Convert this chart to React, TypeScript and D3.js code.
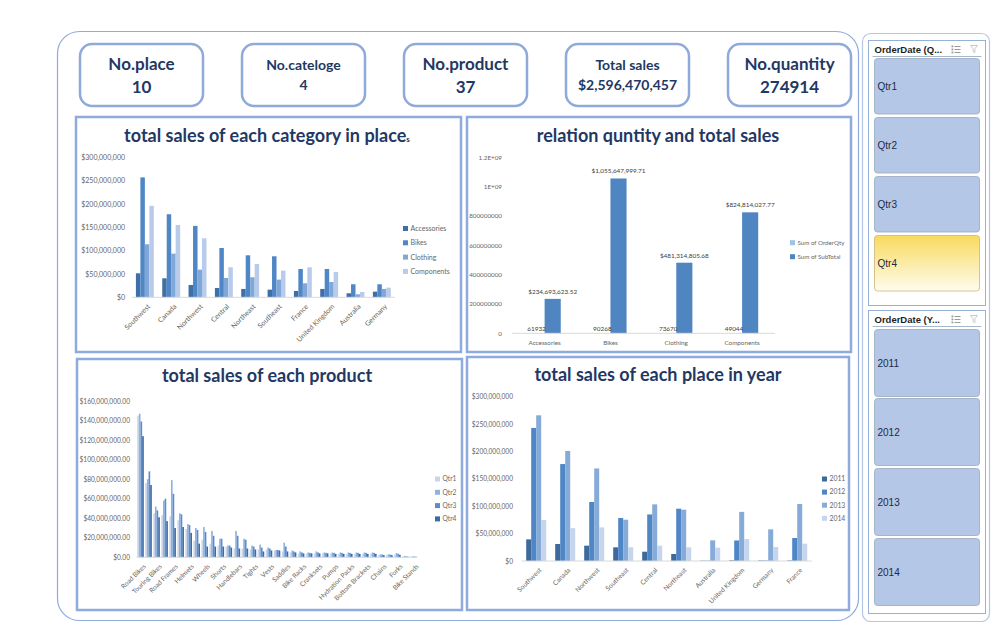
import React, { useEffect, useRef } from "react";
import * as d3 from "d3";

// KPI cards
const kpiLabels = ["No.place", "No.cateloge", "No.product", "Total sales", "No.quantity"];
const kpiValues = ["10", "4", "37", "$2,596,470,457", "274914"];

// chart 1 - total sales of each category in place (millions)
const places1 = ["Southwest", "Canada", "Northwest", "Central", "Northeast", "Southeast", "France", "United Kingdom", "Australia", "Germany"];
const categories = ["Accessories", "Bikes", "Clothing", "Components"];
const accessoriesSales = [51.4, 40.7, 26.4, 20.0, 17.9, 16.4, 13.6, 17.9, 8.6, 12.1];
const bikesSales = [257, 178, 153, 105.7, 90, 87.9, 60.7, 60.7, 27.9, 27.9];
const clothingSales = [113.6, 93.6, 59.3, 41.4, 42.9, 37.9, 30, 32.9, 6.4, 17.9];
const componentsSales = [196, 155, 126.4, 64.3, 71.4, 57.1, 64.3, 54.3, 11.4, 20.7];
const salesTicks1 = [0, 50, 100, 150, 200, 250, 300];

// chart 2 - relation quantity and total sales
const relSeries = ["Sum of OrderQty", "Sum of SubTotal"];
const orderQty = [61932, 90268, 73670, 49044];
const subTotal = [234693623.52, 1055647999.71, 481314805.68, 824814027.77];
const relTicks = [0, 2e8, 4e8, 6e8, 8e8, 1e9, 1.2e9];
const relTickLabels = ["0", "200000000", "400000000", "600000000", "800000000", "1E+09", "1.2E+09"];

// chart 3 - total sales of each product (millions)
const products = [
  "Road Bikes", "Mountain Bikes", "Touring Bikes", "Mountain Frames", "Road Frames", "Touring Frames", "Helmets",
  "Jerseys", "Wheels", "Bib-Shorts", "Shorts", "Gloves", "Handlebars", "Pedals", "Tights", "Headsets", "Vests",
  "Caps", "Saddles", "Derailleurs", "Bike Racks", "Brakes", "Cranksets", "Bottles and Cages", "Pumps",
  "Tires and Tubes", "Hydration Packs", "Socks", "Bottom Brackets", "Fenders", "Chains", "Cleaners", "Forks",
  "Locks", "Bike Stands",
];
const quarters = ["Qtr1", "Qtr2", "Qtr3", "Qtr4"];
const qtr1 = [145, 76, 45, 43, 42, 38, 29, 17, 18, 14, 12, 11, 9, 9, 8, 8, 8, 7, 6, 5, 4, 4, 4, 4, 4, 3.5, 3.5, 3.5, 3.5, 3.5, 2.5, 2.5, 3, 0.8, 0.6];
const qtr2 = [147, 80, 52, 58, 79, 45, 34, 30, 31, 27, 19, 12, 27, 19, 12, 13, 10, 7.5, 15, 7, 6, 5, 6, 5, 5, 5, 5, 5, 5, 5, 3, 3, 4.5, 1.2, 1];
const qtr3 = [139, 88, 48, 60, 65, 44, 33, 28, 26, 22, 19, 12, 22, 18, 11, 10, 9, 7.5, 11, 6, 5, 4.5, 5, 4.5, 4.5, 4.5, 4.5, 4.5, 4.5, 4.5, 2.8, 2.8, 3.5, 1, 0.8];
const qtr4 = [124, 74, 41, 37, 30, 31, 25, 14, 11, 11, 11, 10, 9, 9, 8, 6, 7, 7, 6, 5, 4, 4, 4, 4, 3.5, 3.5, 3.5, 3.5, 3.5, 3.5, 2.2, 2.2, 2.5, 0.6, 0.5];
const productTicks = [0, 20, 40, 60, 80, 100, 120, 140, 160];

// chart 4 - total sales of each place in year (millions)
const places4 = ["Southwest", "Canada", "Northwest", "Southeast", "Central", "Northeast", "Australia", "United Kingdom", "Germany", "France"];
const years = ["2011", "2012", "2013", "2014"];
const sales2011 = [39.5, 31, 28, 25, 17, 12.8, 0.6, 1.2, 1, 1];
const sales2012 = [243, 177, 107.7, 78.5, 85, 95.5, 0.6, 37.5, 1, 42];
const sales2013 = [266, 201, 169, 75.4, 103.4, 93.7, 37.7, 89.7, 57.8, 104];
const sales2014 = [74.8, 60, 61.4, 25, 28, 25, 24.3, 40, 25.5, 31.6];

// slicers
const quarterItems = ["Qtr1", "Qtr2", "Qtr3", "Qtr4"];
const yearItems = ["2011", "2012", "2013", "2014"];
const selectedQuarter = "Qtr4";

const navy = "#1f3864";
const gray = "#666";
const font = "Lato, 'Open Sans', sans-serif";
const panelStroke = "#8faadc";

function groupedBars(svg, o) {
  const g = svg.append("g");
  const x0 = d3.scaleBand().domain(o.groups).range(o.xRange).paddingInner(o.padIn).paddingOuter(o.padOut);
  const x1 = d3.scaleBand().domain(o.series).range([0, x0.bandwidth()]);
  const y = d3.scaleLinear().domain([0, o.yMax]).range(o.yRange);

  o.series.forEach((s, si) => {
    g.selectAll(null)
      .data(o.values[si])
      .enter()
      .append("rect")
      .attr("x", (d, i) => x0(o.groups[i]) + x1(s))
      .attr("y", (d) => y(d))
      .attr("width", x1.bandwidth())
      .attr("height", (d) => y(0) - y(d))
      .attr("fill", o.colors[si]);
  });

  g.append("line")
    .attr("x1", o.xRange[0])
    .attr("x2", o.xRange[1])
    .attr("y1", y(0))
    .attr("y2", y(0))
    .attr("stroke", "#d9d9d9");

  const yAxis = g
    .append("g")
    .attr("transform", `translate(${o.yLabelX},0)`)
    .call(d3.axisLeft(y).tickValues(o.yTicks).tickFormat(o.yFormat).tickSize(0).tickPadding(0));
  yAxis.select(".domain").remove();
  yAxis.attr("font-size", o.fs).attr("font-family", font);
  yAxis.selectAll("text").attr("fill", gray);

  const xAxis = g
    .append("g")
    .attr("transform", `translate(0,${y(0)})`)
    .call(d3.axisBottom(x0).tickSize(0).tickFormat((d, i) => (i % o.labelEvery === 0 ? d : "")));
  xAxis.select(".domain").remove();
  xAxis.attr("font-size", o.fs).attr("font-family", font);
  xAxis.selectAll("text").attr("fill", gray);
  if (o.rotate) {
    xAxis
      .selectAll("text")
      .attr("x", 0)
      .attr("y", 0)
      .attr("dy", "0.35em")
      .attr("text-anchor", "end")
      .attr("transform", "translate(4,8) rotate(-45)");
  } else {
    xAxis.selectAll("text").attr("y", 7);
  }
  return { x0, x1, y, g };
}

function legend(svg, x, y0, gap, names, colors, fs) {
  names.forEach((n, i) => {
    svg.append("rect").attr("x", x).attr("y", y0 + i * gap - 2.5).attr("width", 5).attr("height", 5).attr("fill", colors[i]);
    svg
      .append("text")
      .attr("x", x + 7.5)
      .attr("y", y0 + i * gap)
      .attr("dy", "0.35em")
      .attr("font-size", fs)
      .attr("font-family", font)
      .attr("fill", gray)
      .text(n);
  });
}

function panel(svg, x, y, w, h, title, tx, ty) {
  svg.append("rect").attr("x", x).attr("y", y).attr("width", w).attr("height", h)
    .attr("fill", "#fff").attr("stroke", panelStroke).attr("stroke-width", 2.5);
  return svg
    .append("text")
    .attr("x", tx)
    .attr("y", ty)
    .attr("text-anchor", "middle")
    .attr("font-size", 18)
    .attr("font-weight", 700)
    .attr("font-family", font)
    .attr("fill", navy)
    .text(title);
}

function slicer(svg, x, y, w, h, header, items, btnTops, btnH, selected) {
  svg.append("rect").attr("x", x).attr("y", y).attr("width", w).attr("height", h)
    .attr("fill", "#fff").attr("stroke", "#95b3d7");
  svg.append("text").attr("x", x + 6).attr("y", y + 12).attr("font-size", 9.5).attr("font-weight", 700)
    .attr("font-family", "'Liberation Sans', Arial, sans-serif").attr("fill", "#1e1e1e").text(header);
  svg.append("line").attr("x1", x + 4).attr("x2", x + w - 4).attr("y1", y + 16).attr("y2", y + 16).attr("stroke", "#a6b6cc");
  // multi-select icon
  const ix = x + w - 34;
  [0, 3, 6].forEach((d) => {
    svg.append("line").attr("x1", ix + 3).attr("x2", ix + 9).attr("y1", y + 6 + d).attr("y2", y + 6 + d).attr("stroke", "#9a9a9a");
    svg.append("rect").attr("x", ix).attr("y", y + 5 + d).attr("width", 1.8).attr("height", 1.8).attr("fill", "#9a9a9a");
  });
  // clear filter icon
  const fx = x + w - 15;
  svg.append("path").attr("d", `M${fx},${y + 5} h7 l-2.6,3.2 v4 l-1.8,-1 v-3 z`).attr("fill", "none").attr("stroke", "#c4c4c4").attr("stroke-width", 0.9);

  items.forEach((it, i) => {
    const by = btnTops[i];
    const isSel = it === selected;
    svg.append("rect")
      .attr("x", x + 6)
      .attr("y", by)
      .attr("width", w - 12)
      .attr("height", btnH)
      .attr("rx", 3)
      .attr("fill", isSel ? "url(#selGrad)" : "#b4c7e7")
      .attr("stroke", isSel ? "#c9b77a" : "#9aa8bd")
      .attr("stroke-width", 0.8);
    svg.append("text")
      .attr("x", x + 9)
      .attr("y", by + btnH / 2)
      .attr("dy", "0.35em")
      .attr("font-size", 10)
      .attr("font-family", "'Liberation Sans', Arial, sans-serif")
      .attr("fill", "#1e2a44")
      .text(it);
  });
}

export default function App() {
  const svgRef = useRef(null);

  useEffect(() => {
    const svg = d3.select(svgRef.current);
    svg.selectAll("*").remove();

    const defs = svg.append("defs");
    const grad = defs.append("linearGradient").attr("id", "selGrad").attr("x1", 0).attr("y1", 0).attr("x2", 0).attr("y2", 1);
    grad.append("stop").attr("offset", "0%").attr("stop-color", "#f8da5e");
    grad.append("stop").attr("offset", "100%").attr("stop-color", "#fefcee");

    // outer frames
    svg.append("rect").attr("x", 57.5).attr("y", 31.5).attr("width", 801).attr("height", 589).attr("rx", 22)
      .attr("fill", "#fff").attr("stroke", "#8faadc").attr("stroke-width", 1.2);
    svg.append("rect").attr("x", 862.5).attr("y", 33.5).attr("width", 127).attr("height", 588).attr("rx", 8)
      .attr("fill", "#fff").attr("stroke", "#b4c6e7").attr("stroke-width", 1.2);

    // KPI cards
    const kpiSizes = [17, 14, 17, 14, 17];
    kpiLabels.forEach((lab, i) => {
      const cx = 80 + i * 162;
      svg.append("rect").attr("x", cx).attr("y", 44).attr("width", 123).attr("height", 62).attr("rx", 12)
        .attr("fill", "#fff").attr("stroke", "#8eaadb").attr("stroke-width", 2.5);
      const small = kpiSizes[i] < 16;
      svg.append("text").attr("x", cx + 61.5).attr("y", 70).attr("text-anchor", "middle")
        .attr("font-size", kpiSizes[i]).attr("font-weight", 700).attr("font-family", font).attr("fill", navy).text(lab);
      svg.append("text").attr("x", cx + 61.5).attr("y", small ? 90 : 93).attr("text-anchor", "middle")
        .attr("font-size", kpiSizes[i]).attr("font-weight", 700).attr("font-family", font).attr("fill", navy).text(kpiValues[i]);
    });

    // chart 1
    const t1 = panel(svg, 76, 117, 385, 235, "total sales of each category in place", 267, 142);
    t1.append("tspan").attr("font-size", 8).text("s");
    const c1Colors = ["#3e6fa6", "#4f86c6", "#7fa7d8", "#b8cbea"];
    groupedBars(svg, {
      groups: places1,
      series: categories,
      values: [accessoriesSales, bikesSales, clothingSales, componentsSales],
      colors: c1Colors,
      xRange: [131.7, 395],
      yRange: [297.3, 157.3],
      yMax: 300,
      padIn: 0.32,
      padOut: 0.16,
      yTicks: salesTicks1,
      yFormat: (v) => "$" + d3.format(",")(v * 1e6),
      yLabelX: 125,
      labelEvery: 1,
      rotate: true,
      fs: 7,
    });
    legend(svg, 403, 228.5, 14.3, categories, c1Colors, 7);

    // chart 2
    panel(svg, 467, 117, 384, 235, "relation quntity and total sales", 658, 142);
    const c2Colors = ["#9dc3e6", "#4f86c2"];
    const c2 = groupedBars(svg, {
      groups: categories,
      series: relSeries,
      values: [orderQty, subTotal],
      colors: c2Colors,
      xRange: [511.7, 775],
      yRange: [333.3, 157.3],
      yMax: 1.2e9,
      padIn: 0.51,
      padOut: 0.255,
      yTicks: relTicks,
      yFormat: (v, i) => relTickLabels[i],
      yLabelX: 502,
      labelEvery: 1,
      rotate: false,
      fs: 6.3,
    });
    const lbl = (x, y, t) =>
      svg.append("text").attr("x", x).attr("y", y).attr("text-anchor", "middle").attr("font-size", 6.4)
        .attr("font-family", font).attr("fill", "#404040").text(t);
    categories.forEach((c, i) => {
      const bx = c2.x0(c);
      const bw = c2.x1.bandwidth();
      lbl(bx + c2.x1(relSeries[0]) + bw / 2, c2.y(orderQty[i]) - 2, String(orderQty[i]));
      lbl(bx + c2.x1(relSeries[1]) + bw / 2, c2.y(subTotal[i]) - 5, "$" + d3.format(",.2f")(subTotal[i]));
    });
    legend(svg, 790, 242.7, 14, relSeries, c2Colors, 6.2);

    // chart 3
    panel(svg, 77, 359, 385, 251, "total sales of each product", 267, 382);
    const c3Colors = ["#c9d5e9", "#8fb2df", "#5b8dcb", "#3c6aa5"];
    groupedBars(svg, {
      groups: products,
      series: quarters,
      values: [qtr1, qtr2, qtr3, qtr4],
      colors: c3Colors,
      xRange: [136.5, 417.5],
      yRange: [557.3, 401],
      yMax: 160,
      padIn: 0.18,
      padOut: 0.09,
      yTicks: productTicks,
      yFormat: (v) => "$" + d3.format(",.2f")(v * 1e6),
      yLabelX: 130,
      labelEvery: 2,
      rotate: true,
      fs: 6.6,
    });
    legend(svg, 435, 479, 13.3, quarters, c3Colors, 6.6);

    // chart 4
    panel(svg, 467, 357, 382, 253, "total sales of each place in year", 658, 381);
    const c4Colors = ["#3d6a9b", "#4f86c6", "#86abd8", "#c5d5ee"];
    groupedBars(svg, {
      groups: places4,
      series: years,
      values: [sales2011, sales2012, sales2013, sales2014],
      colors: c4Colors,
      xRange: [521.7, 811.7],
      yRange: [561, 396.7],
      yMax: 300,
      padIn: 0.31,
      padOut: 0.155,
      yTicks: salesTicks1,
      yFormat: (v) => "$" + d3.format(",")(v * 1e6),
      yLabelX: 513,
      labelEvery: 1,
      rotate: true,
      fs: 6.6,
    });
    legend(svg, 822, 479, 13.1, years, c4Colors, 6.8);

    // slicers
    slicer(svg, 868.5, 40.5, 117, 265, "OrderDate (Q...", quarterItems, [58.5, 117.5, 176.5, 235.5], 55.5, selectedQuarter);
    slicer(svg, 868.5, 310.5, 117, 303, "OrderDate (Y...", yearItems, [329.5, 398.5, 468.5, 538.5], 67, null);
  }, []);

  return (
    <svg
      ref={svgRef}
      width={1000}
      height={628}
      style={{ position: "absolute", left: 0, top: 0, background: "#fff" }}
    ></svg>
  );
}
